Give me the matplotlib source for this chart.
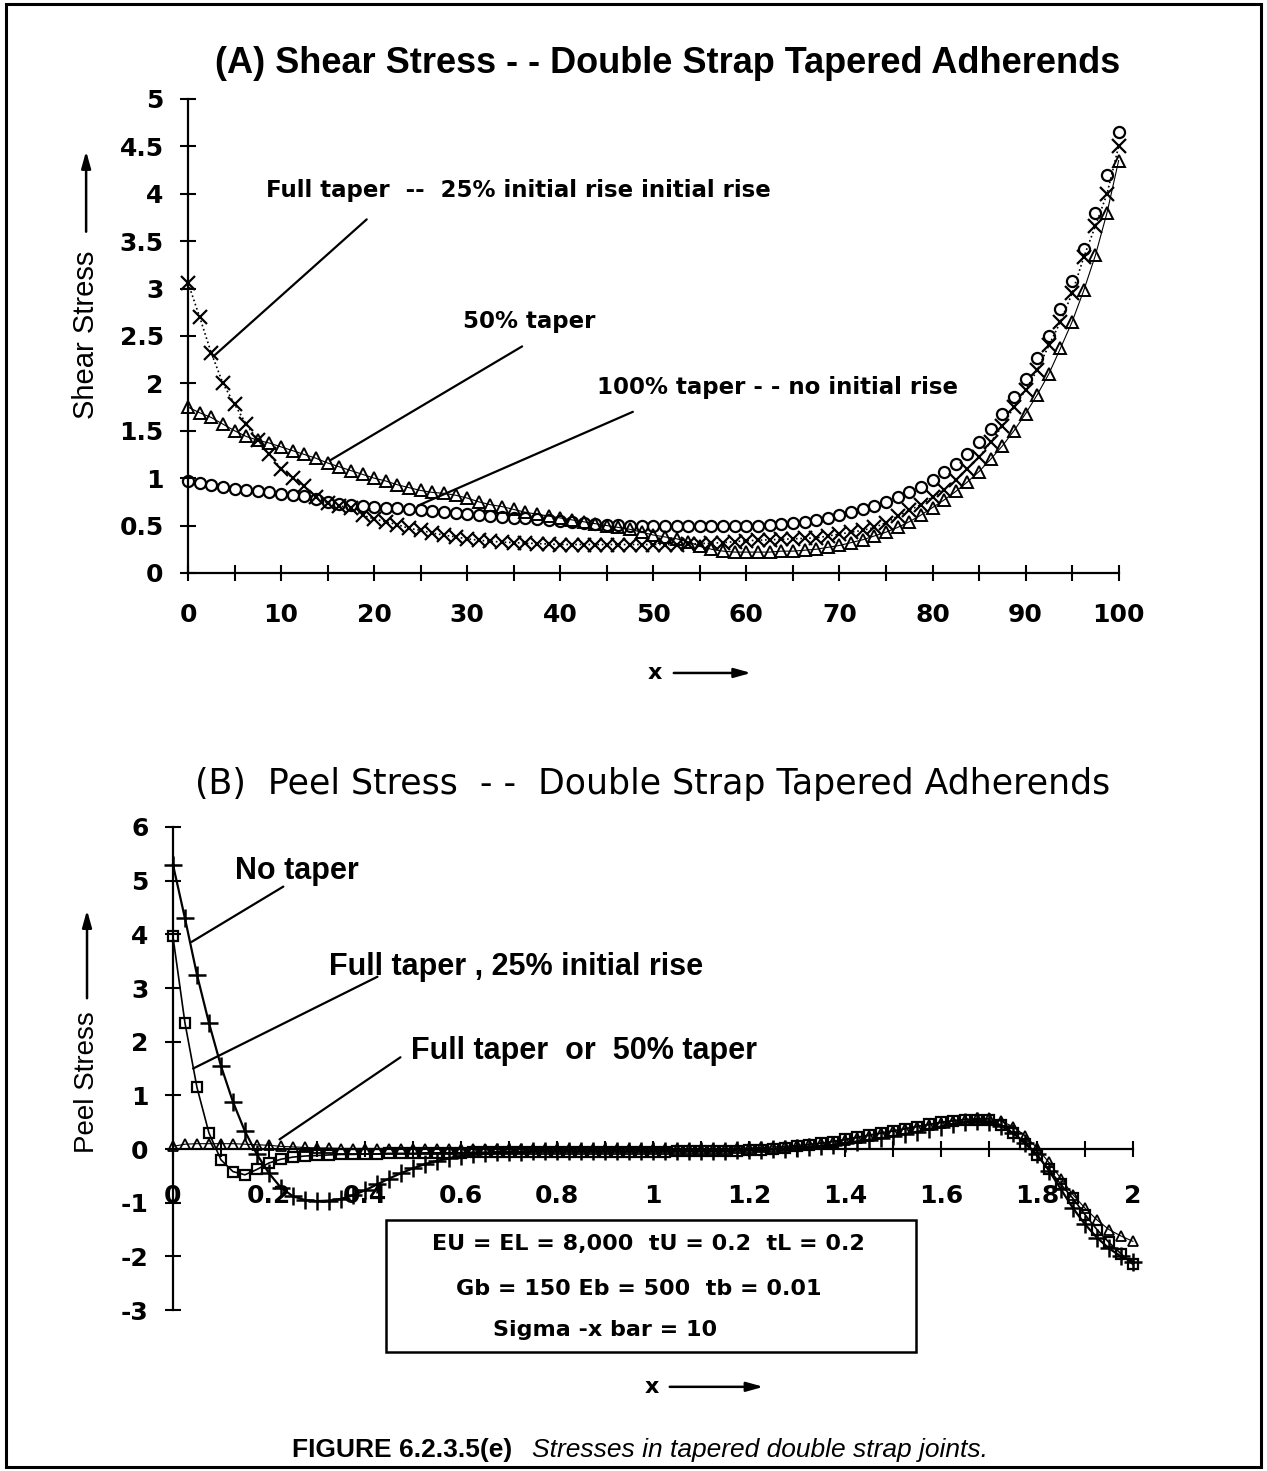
import numpy as np
import matplotlib.pyplot as plt
from matplotlib.patches import Rectangle
from matplotlib.ticker import MultipleLocator, FormatStrFormatter

plt.rcParams['font.family'] = ['Liberation Sans', 'DejaVu Sans']
plt.rcParams['axes.unicode_minus'] = False

# (A) shear stress along the overlap, x in percent
x_a = [0, 1.25, 2.5, 3.75, 5, 6.25, 7.5, 8.75, 10, 11.25, 12.5, 13.75, 15, 16.25,
       17.5, 18.75, 20, 21.25, 22.5, 23.75, 25, 26.25, 27.5, 28.75, 30, 31.25,
       32.5, 33.75, 35, 36.25, 37.5, 38.75, 40, 41.25, 42.5, 43.75, 45, 46.25,
       47.5, 48.75, 50, 51.25, 52.5, 53.75, 55, 56.25, 57.5, 58.75, 60, 61.25,
       62.5, 63.75, 65, 66.25, 67.5, 68.75, 70, 71.25, 72.5, 73.75, 75, 76.25,
       77.5, 78.75, 80, 81.25, 82.5, 83.75, 85, 86.25, 87.5, 88.75, 90, 91.25,
       92.5, 93.75, 95, 96.25, 97.5, 98.75, 100]
shear_full25 = [3.06, 2.70, 2.32, 2.00, 1.78, 1.57, 1.40, 1.25, 1.10, 1.00, 0.92,
                0.80, 0.74, 0.71, 0.68, 0.61, 0.57, 0.54, 0.51, 0.47, 0.45, 0.42,
                0.40, 0.38, 0.36, 0.345, 0.335, 0.325, 0.32, 0.315, 0.31, 0.305,
                0.30, 0.30, 0.30, 0.30, 0.30, 0.30, 0.30, 0.30, 0.30, 0.30, 0.30,
                0.305, 0.31, 0.315, 0.32, 0.33, 0.34, 0.345, 0.35, 0.355, 0.36,
                0.365, 0.37, 0.39, 0.41, 0.43, 0.45, 0.48, 0.53, 0.60, 0.66, 0.72,
                0.80, 0.88, 0.98, 1.10, 1.22, 1.38, 1.55, 1.75, 1.93, 2.14, 2.40,
                2.65, 2.95, 3.33, 3.66, 4.00, 4.50]
shear_taper50 = [1.75, 1.69, 1.64, 1.57, 1.50, 1.44, 1.40, 1.37, 1.33, 1.29, 1.25,
                 1.21, 1.16, 1.12, 1.08, 1.04, 1.00, 0.97, 0.93, 0.90, 0.87, 0.85,
                 0.84, 0.82, 0.79, 0.75, 0.72, 0.70, 0.67, 0.64, 0.62, 0.60, 0.58,
                 0.56, 0.54, 0.52, 0.50, 0.48, 0.46, 0.43, 0.40, 0.38, 0.36, 0.33,
                 0.28, 0.25, 0.23, 0.22, 0.22, 0.22, 0.22, 0.23, 0.23, 0.24, 0.25,
                 0.27, 0.29, 0.32, 0.35, 0.39, 0.43, 0.48, 0.54, 0.61, 0.69, 0.77,
                 0.86, 0.96, 1.07, 1.20, 1.34, 1.50, 1.68, 1.88, 2.10, 2.37, 2.65,
                 2.98, 3.35, 3.80, 4.35]
shear_taper100 = [0.97, 0.95, 0.93, 0.91, 0.89, 0.87, 0.86, 0.85, 0.83, 0.82, 0.81,
                  0.78, 0.75, 0.73, 0.72, 0.71, 0.70, 0.69, 0.68, 0.67, 0.66, 0.65,
                  0.64, 0.63, 0.62, 0.61, 0.60, 0.59, 0.58, 0.575, 0.57, 0.56, 0.55,
                  0.54, 0.53, 0.52, 0.51, 0.505, 0.50, 0.50, 0.50, 0.50, 0.50, 0.50,
                  0.50, 0.50, 0.50, 0.50, 0.50, 0.50, 0.51, 0.52, 0.53, 0.54, 0.56,
                  0.58, 0.61, 0.64, 0.67, 0.71, 0.75, 0.80, 0.85, 0.91, 0.98, 1.06,
                  1.15, 1.26, 1.38, 1.52, 1.68, 1.86, 2.05, 2.27, 2.50, 2.78, 3.08,
                  3.42, 3.80, 4.20, 4.65]

# (B) peel stress
x_b = [0, 0.025, 0.05, 0.075, 0.1, 0.125, 0.15, 0.175, 0.2, 0.225, 0.25, 0.275,
       0.3, 0.325, 0.35, 0.375, 0.4, 0.425, 0.45, 0.475, 0.5, 0.525, 0.55, 0.575,
       0.6, 0.625, 0.65, 0.675, 0.7, 0.725, 0.75, 0.775, 0.8, 0.825, 0.85, 0.875,
       0.9, 0.925, 0.95, 0.975, 1.0, 1.025, 1.05, 1.075, 1.1, 1.125, 1.15, 1.175,
       1.2, 1.225, 1.25, 1.275, 1.3, 1.325, 1.35, 1.375, 1.4, 1.425, 1.45, 1.475,
       1.5, 1.525, 1.55, 1.575, 1.6, 1.625, 1.65, 1.675, 1.7, 1.725, 1.75, 1.775,
       1.8, 1.825, 1.85, 1.875, 1.9, 1.925, 1.95, 1.975, 2.0]
peel_none = [5.30, 4.30, 3.25, 2.35, 1.55, 0.88, 0.33, -0.10, -0.45, -0.72, -0.88,
             -0.95, -0.97, -0.96, -0.93, -0.86, -0.77, -0.66, -0.55, -0.45, -0.36,
             -0.28, -0.22, -0.17, -0.13, -0.10, -0.08, -0.06, -0.05, -0.05, -0.04,
             -0.04, -0.04, -0.04, -0.04, -0.04, -0.04, -0.04, -0.04, -0.04, -0.04,
             -0.04, -0.04, -0.03, -0.03, -0.03, -0.03, -0.02, -0.02, -0.01, 0.0,
             0.01, 0.02, 0.04, 0.06, 0.08, 0.11, 0.14, 0.17, 0.20, 0.24, 0.28,
             0.32, 0.37, 0.42, 0.47, 0.50, 0.52, 0.50, 0.43, 0.30, 0.12, -0.10,
             -0.40, -0.75, -1.10, -1.40, -1.65, -1.85, -2.00, -2.10]
peel_full25 = [3.96, 2.35, 1.15, 0.30, -0.20, -0.42, -0.48, -0.38, -0.26, -0.19,
               -0.15, -0.13, -0.12, -0.11, -0.10, -0.10, -0.09, -0.09, -0.08, -0.08,
               -0.08, -0.07, -0.07, -0.07, -0.07, -0.06, -0.06, -0.06, -0.06, -0.06,
               -0.05, -0.05, -0.05, -0.05, -0.05, -0.05, -0.05, -0.05, -0.05, -0.05,
               -0.05, -0.05, -0.04, -0.04, -0.04, -0.04, -0.03, -0.03, -0.02, -0.01,
               0.0, 0.02, 0.05, 0.08, 0.11, 0.14, 0.18, 0.22, 0.26, 0.30, 0.34,
               0.38, 0.42, 0.46, 0.50, 0.53, 0.55, 0.55, 0.54, 0.45, 0.30, 0.10,
               -0.12, -0.38, -0.66, -0.92, -1.22, -1.50, -1.74, -1.95, -2.15]
peel_full50 = [0.05, 0.09, 0.10, 0.10, 0.10, 0.10, 0.09, 0.08, 0.07, 0.05, 0.04,
               0.03, 0.02, 0.02, 0.01, 0.01, 0.01, 0.0, 0.0, 0.0, 0.0, 0.0, 0.0,
               0.0, 0.0, 0.0, 0.0, 0.0, 0.0, 0.0, 0.0, 0.0, 0.0, 0.0, 0.0, 0.0,
               0.0, 0.0, 0.0, 0.0, 0.0, 0.0, 0.0, 0.0, 0.0, 0.01, 0.01, 0.02, 0.02,
               0.03, 0.04, 0.05, 0.07, 0.09, 0.11, 0.14, 0.17, 0.21, 0.25, 0.29,
               0.33, 0.37, 0.42, 0.45, 0.49, 0.52, 0.55, 0.57, 0.57, 0.52, 0.42,
               0.25, 0.02, -0.25, -0.55, -0.85, -1.10, -1.32, -1.50, -1.62, -1.72]

DV = ['DejaVu Sans']
LIB = ['Liberation Sans', 'DejaVu Sans']


def style_axes(ax):
    ax.spines['top'].set_visible(False)
    ax.spines['right'].set_visible(False)
    ax.spines['left'].set_linewidth(1.6)
    ax.spines['bottom'].set_linewidth(1.6)
    ax.tick_params(which='both', direction='inout', length=11, width=1.5,
                   labelsize=18, top=False, right=False)
    for lab in ax.get_xticklabels() + ax.get_yticklabels():
        lab.set_fontweight('bold')
        lab.set_family(DV)


def arrow_label(ax, x0, y0, x1, y1):
    ax.annotate('', xy=(x1, y1), xytext=(x0, y0), xycoords='data',
                textcoords='data', annotation_clip=False,
                arrowprops=dict(arrowstyle='-|>,head_length=1.0,head_width=0.28',
                                lw=1.8, color='black', shrinkA=0, shrinkB=0))


def leader(ax, txt, txy, p0, p1, size, family):
    ax.text(txy[0], txy[1], txt, fontsize=size, va='center', ha='left',
            fontweight='bold', family=family)
    ax.annotate('', xy=p1, xytext=p0, annotation_clip=False,
                arrowprops=dict(arrowstyle='-', lw=1.6, color='black',
                                shrinkA=0, shrinkB=0))


fig = plt.figure(figsize=(12.67, 14.71), dpi=100)
fig.patches.append(Rectangle((0.005, 0.003), 0.99, 0.994, transform=fig.transFigure,
                             fill=False, lw=2.2, ec='black'))

# ---- (A) shear stress
ax1 = fig.add_axes([0.1484, 0.6105, 0.7345, 0.3222])
ax1.plot(x_a, shear_full25, color='k', ls=':', lw=1.2, marker='x', ms=10, mew=1.6,
         clip_on=False)
ax1.plot(x_a, shear_taper50, color='k', ls='-', lw=0.8, marker='^', ms=8, mew=1.4,
         mfc='none', clip_on=False)
ax1.plot(x_a, shear_taper100, color='k', ls='none', marker='o', ms=8, mew=1.6,
         mfc='none', clip_on=False)
ax1.set_xlim(0, 100)
ax1.set_ylim(0, 5)
ax1.xaxis.set_major_locator(MultipleLocator(10))
ax1.xaxis.set_minor_locator(MultipleLocator(5))
ax1.yaxis.set_major_locator(MultipleLocator(0.5))
ax1.yaxis.set_major_formatter(FormatStrFormatter('%g'))
ax1.xaxis.set_major_formatter(FormatStrFormatter('%g'))
style_axes(ax1)
ax1.tick_params(axis='x', which='major', pad=16)
ax1.tick_params(axis='y', which='major', pad=12)

fig.text(0.527, 0.9565, '(A) Shear Stress - - Double Strap Tapered Adherends',
         ha='center', va='center', fontsize=26, fontweight='bold')

leader(ax1, 'Full taper  --  25% initial rise initial rise', (8.4, 4.03),
       (19.2, 3.73), (2.67, 2.28), 16.5, DV)
leader(ax1, '50% taper', (29.6, 2.65), (35.9, 2.39), (15.3, 1.19), 16.5, DV)
leader(ax1, '100% taper - - no initial rise', (44.0, 1.96), (47.8, 1.70),
       (24.7, 0.71), 16.5, DV)

ax1.text(-10.95, 2.51, 'Shear Stress', rotation=90, ha='center', va='center',
         fontsize=21, clip_on=False)
arrow_label(ax1, -10.95, 3.6, -10.95, 4.45)
ax1.text(50.2, -1.055, 'x', ha='center', va='center', fontsize=16,
         fontweight='bold', family=DV)
arrow_label(ax1, 52.2, -1.055, 60.5, -1.055)

# ---- (B) peel stress
ax2 = fig.add_axes([0.1365, 0.1094, 0.7577, 0.3284])
ax2.plot(x_b, peel_none, color='k', ls='-', lw=1.6, marker='+', ms=13, mew=1.8,
         clip_on=False)
ax2.plot(x_b, peel_full25, color='k', ls='-', lw=1.2, marker='s', ms=7, mew=1.6,
         mfc='none', clip_on=False)
ax2.plot(x_b, peel_full50, color='k', ls='-', lw=0.8, marker='^', ms=7, mew=1.3,
         mfc='none', clip_on=False)
ax2.set_xlim(0, 2)
ax2.set_ylim(-3, 6)
ax2.spines['bottom'].set_position(('data', 0))
ax2.xaxis.set_major_locator(MultipleLocator(0.2))
ax2.xaxis.set_minor_locator(MultipleLocator(0.1))
ax2.yaxis.set_major_locator(MultipleLocator(1))
ax2.yaxis.set_major_formatter(FormatStrFormatter('%g'))
ax2.xaxis.set_major_formatter(FormatStrFormatter('%g'))
style_axes(ax2)
ax2.tick_params(axis='x', which='major', pad=20)
ax2.tick_params(axis='y', which='major', pad=12)

fig.text(0.515, 0.467, '(B)  Peel Stress  - -  Double Strap Tapered Adherends',
         ha='center', va='center', fontsize=25, family=DV)

leader(ax2, 'No taper', (0.13, 5.18), (0.23, 4.89), (0.039, 3.86), 22, LIB)
leader(ax2, 'Full taper , 25% initial rise', (0.326, 3.39), (0.426, 3.21),
       (0.042, 1.5), 22, LIB)
leader(ax2, 'Full taper  or  50% taper', (0.496, 1.82), (0.474, 1.71),
       (0.222, 0.18), 22, LIB)

ax2.add_patch(Rectangle((0.444, -3.78), 1.104, 2.46, fill=False, lw=1.8, ec='black',
                        clip_on=False))
ax2.text(0.99, -1.77, 'EU = EL = 8,000  tU = 0.2  tL = 0.2', ha='center',
         va='center', fontsize=16, fontweight='bold', family=DV)
ax2.text(0.97, -2.6, 'Gb = 150 Eb = 500  tb = 0.01', ha='center', va='center',
         fontsize=16, fontweight='bold', family=DV)
ax2.text(0.90, -3.38, 'Sigma -x bar = 10', ha='center', va='center', fontsize=16,
         fontweight='bold', family=DV)

ax2.text(-0.179, 1.25, 'Peel Stress', rotation=90, ha='center', va='center',
         fontsize=20, clip_on=False)
arrow_label(ax2, -0.179, 2.81, -0.179, 4.45)
ax2.text(0.998, -4.43, 'x', ha='center', va='center', fontsize=16,
         fontweight='bold', family=DV)
arrow_label(ax2, 1.035, -4.43, 1.23, -4.43)

# caption
NARROW = ['Liberation Sans Narrow', 'Liberation Sans']
fig.text(0.404, 0.0143, 'FIGURE 6.2.3.5(e)', ha='right', va='center', fontsize=19,
         family=NARROW, fontweight='bold')
fig.text(0.42, 0.0143, 'Stresses in tapered double strap joints.', ha='left',
         va='center', fontsize=19, family=NARROW, style='italic')

fig.savefig('out.png', dpi=100)
